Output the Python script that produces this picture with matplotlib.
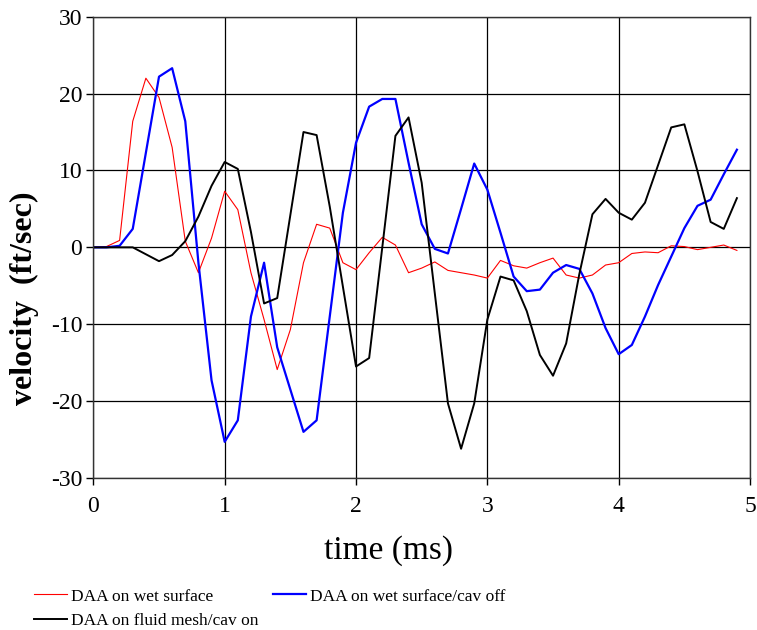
import matplotlib
matplotlib.use("Agg")
import matplotlib.pyplot as plt

# time axis (ms)
time_ms = [0.0, 0.1, 0.2, 0.3, 0.4, 0.5, 0.6, 0.7, 0.8, 0.9,
           1.0, 1.1, 1.2, 1.3, 1.4, 1.5, 1.6, 1.7, 1.8, 1.9,
           2.0, 2.1, 2.2, 2.3, 2.4, 2.5, 2.6, 2.7, 2.8, 2.9,
           3.0, 3.1, 3.2, 3.3, 3.4, 3.5, 3.6, 3.7, 3.8, 3.9,
           4.0, 4.1, 4.2, 4.3, 4.4, 4.5, 4.6, 4.7, 4.8, 4.9]

# DAA on wet surface
vel_wet = [0.0, 0.1, 0.9, 16.4, 22.0, 19.5, 13.0, 0.8, -3.3, 1.2,
           7.3, 4.9, -3.3, -9.4, -15.9, -10.7, -2.0, 3.0, 2.5, -2.0,
           -2.9, -0.7, 1.3, 0.3, -3.3, -2.7, -1.9, -3.0, -3.3, -3.6,
           -4.0, -1.7, -2.4, -2.7, -2.0, -1.4, -3.6, -4.0, -3.6, -2.3,
           -2.0, -0.8, -0.6, -0.7, 0.2, 0.1, -0.3, 0.0, 0.3, -0.4]

# DAA on wet surface/cav off
vel_wet_cavoff = [0.0, 0.0, 0.2, 2.4, 12.3, 22.2, 23.3, 16.4, -2.0, -17.3,
                  -25.3, -22.5, -9.0, -2.0, -13.0, -18.5, -24.0, -22.5, -9.0, 4.5,
                  13.6, 18.3, 19.3, 19.3, 11.0, 3.0, -0.2, -0.8, 5.0, 10.9,
                  7.5, 1.9, -3.8, -5.7, -5.5, -3.3, -2.3, -2.8, -6.0, -10.5,
                  -13.9, -12.7, -9.0, -4.9, -1.2, 2.5, 5.4, 6.2, 9.5, 12.7]

# DAA on fluid mesh/cav on
vel_fluid_cavon = [0.0, 0.0, 0.0, 0.0, -0.9, -1.8, -1.0, 0.8, 4.0, 8.0,
                   11.1, 10.2, 2.0, -7.3, -6.6, 4.2, 15.0, 14.6, 5.3, -5.1,
                   -15.5, -14.4, 0.0, 14.5, 16.9, 8.4, -6.0, -20.3, -26.2, -20.3,
                   -9.4, -3.8, -4.3, -8.3, -14.0, -16.7, -12.5, -3.5, 4.3, 6.3,
                   4.5, 3.6, 5.8, 10.7, 15.6, 16.0, 9.9, 3.3, 2.4, 6.4]

labels = ["DAA on wet surface", "DAA on wet surface/cav off", "DAA on fluid mesh/cav on"]

plt.rcParams["font.family"] = ["Liberation Serif", "DejaVu Serif"]
plt.rcParams["axes.unicode_minus"] = False

fig = plt.figure(figsize=(7.57, 6.30), dpi=100)
ax = fig.add_axes([0.1233, 0.2413, 0.8675, 0.7322])

l_red, = ax.plot(time_ms, vel_wet, color="#ff0000", linewidth=0.8, label=labels[0])
l_blue, = ax.plot(time_ms, vel_wet_cavoff, color="#0000ff", linewidth=1.6, label=labels[1])
l_black, = ax.plot(time_ms, vel_fluid_cavon, color="black", linewidth=1.4, label=labels[2])

ax.set_xlim(0, 5)
ax.set_ylim(-30, 30)
ax.set_xticks([0, 1, 2, 3, 4, 5])
ax.set_yticks([-30, -20, -10, 0, 10, 20, 30])
ax.grid(True, color="black", linewidth=0.9)
ax.set_axisbelow(True)
for s in ax.spines.values():
    s.set_color("#333333")
    s.set_linewidth(1.0)
ax.tick_params(axis="both", direction="out", length=5, width=1.0, labelsize=17, colors="black")
ax.tick_params(axis="x", pad=8)
ax.tick_params(axis="y", pad=3)

ax.set_xlabel("time (ms)", fontsize=24)
ax.xaxis.set_label_coords(0.449, -0.125)
ax.set_ylabel("velocity  (ft/sec)", fontsize=23, fontweight="bold")
ax.yaxis.set_label_coords(-0.082, 0.39)

fig.legend([l_red, l_black, l_blue], [labels[0], labels[2], labels[1]],
           ncol=2, loc="upper left", bbox_to_anchor=(0.045, 0.066), frameon=False,
           fontsize=12.5, handlelength=1.9, handletextpad=0.25, columnspacing=0.8,
           labelspacing=0.5, borderaxespad=0, borderpad=0)

fig.savefig("out.png", dpi=100)
